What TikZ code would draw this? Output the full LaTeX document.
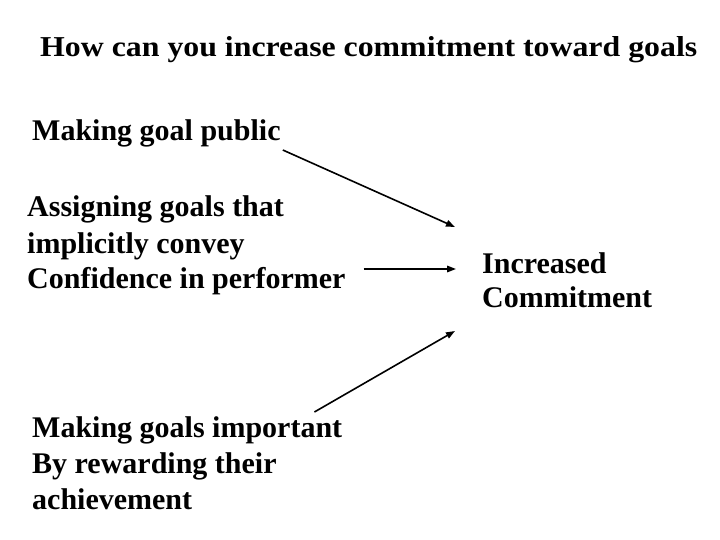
\documentclass[tikz,border=0pt]{standalone}
\usepackage{fontspec}
\setmainfont{Liberation Serif}
\usetikzlibrary{arrows.meta}
\newcommand\blocklines[1]{\begin{tabular}[t]{@{}l@{}}#1\end{tabular}}
\begin{document}
\begin{tikzpicture}[x=1pt,y=-1pt,
  lbl/.style={inner sep=0pt, anchor=base west,
    font=\fontsize{30}{36}\selectfont\bfseries},
  arr/.style={line width=1.6pt, -{Triangle[length=9pt,width=6.5pt]}}]
\useasboundingbox (0,0) rectangle (720,540);
\node[inner sep=0pt, anchor=base west] (title) at (40,57)
  {\resizebox{657pt}{20pt}{\fontsize{30}{36}\selectfont\bfseries How can you increase commitment toward goals}};
\node[lbl] (pub) at (32,141) {Making goal public};
\node[lbl] (conf) at (27,217) {\blocklines{Assigning goals that\\implicitly convey\\Confidence in performer}};
\node[lbl] (imp) at (32,437) {\blocklines{Making goals important\\By rewarding their\\achievement}};
\node[lbl, font=\fontsize{30}{34}\selectfont\bfseries] (inc) at (482,273) {\blocklines{Increased\\Commitment}};
\draw[arr] ([shift={(2,9)}]pub.base east) -- ([shift={(-27,-46)}]inc.base west);
\draw[arr] ([shift={(18,52)}]conf.base east) -- ([shift={(-26,-4)}]inc.base west);
\draw[arr] ([shift={(-28,-25)}]imp.base east) -- ([shift={(-27,58)}]inc.base west);
\end{tikzpicture}
\end{document}
